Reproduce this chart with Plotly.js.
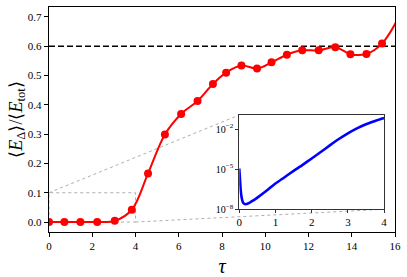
<!DOCTYPE html>
<html>
<head>
<meta charset="utf-8">
<script src="https://cdn.plot.ly/plotly-3.0.1.min.js"></script>
<style>html,body{margin:0;padding:0;background:#fff;}#chart{width:407px;height:277px;}</style>
</head>
<body>
<div id="chart"></div>
<script>
// Main series: energy ratio vs tau
const tau = [0, 0.71, 1.45, 2.23, 3.04, 3.83, 4.58, 5.36, 6.11, 6.87, 7.58, 8.19, 8.9, 9.62, 10.29, 11.0, 11.71, 12.47, 13.24, 13.94, 14.68, 15.4, 16.25];
const ratio = [0, 0, 0, 0, 0.004, 0.042, 0.166, 0.299, 0.369, 0.413, 0.471, 0.510, 0.534, 0.524, 0.545, 0.571, 0.586, 0.586, 0.597, 0.573, 0.574, 0.609, 0.71];
const threshold = 0.6;

// Inset series (log scale)
const tauInset = [0, 0.02, 0.04, 0.07, 0.1, 0.14, 0.18, 0.24, 0.3, 0.4, 0.5, 0.75, 1.0, 1.25, 1.5, 1.75, 2.0, 2.25, 2.5, 2.75, 3.0, 3.25, 3.5, 3.75, 4.0];
const ratioInset = [1.12e-5, 1.58e-6, 2.51e-7, 6.3e-8, 3.3e-8, 2.5e-8, 2.4e-8, 2.7e-8, 3.3e-8, 4.8e-8, 7.4e-8, 2.4e-7, 8.5e-7, 2.5e-6, 7.4e-6, 2.1e-5, 6.3e-5, 1.9e-4, 6.0e-4, 1.8e-3, 4.8e-3, 1.12e-2, 2.3e-2, 4.0e-2, 6.6e-2];
const insetTickVals = [1e-8, 1e-5, 1e-2];
const insetTickText = ['10<sup>−8</sup>', '10<sup>−5</sup>', '10<sup>−2</sup>'];

// Zoomed region shown in inset
const zoomX = [0, 4];
const zoomY = [0, 0.1];

const xRange = [0, 16];
const yRange = [-0.034, 0.734];
const insetDomX = [0.55, 0.9685];
const insetDomY = [0.101, 0.52];

const serif = '"Liberation Serif", "Times New Roman", serif';

// inset corners in main data coordinates
const cx0 = xRange[0] + insetDomX[0] * (xRange[1] - xRange[0]);
const cx1 = xRange[0] + insetDomX[1] * (xRange[1] - xRange[0]);
const cy0 = yRange[0] + insetDomY[0] * (yRange[1] - yRange[0]);
const cy1 = yRange[0] + insetDomY[1] * (yRange[1] - yRange[0]);

const grayDot = {color: '#999', width: 0.8, dash: 'dot'};

const data = [
  {x: tau, y: ratio, type: 'scatter', mode: 'lines+markers',
   line: {color: '#ff0000', width: 2, shape: 'spline', smoothing: 1},
   marker: {color: '#ff0000', size: 8}, xaxis: 'x', yaxis: 'y', cliponaxis: true},
  {x: tauInset, y: ratioInset, type: 'scatter', mode: 'lines',
   line: {color: '#0000ff', width: 2.6, shape: 'spline', smoothing: 0.6},
   xaxis: 'x2', yaxis: 'y2'}
];

const layout = {
  width: 407, height: 277,
  margin: {l: 49, r: 12, t: 7, b: 45},
  paper_bgcolor: '#fff', plot_bgcolor: '#fff',
  showlegend: false,
  font: {family: serif, color: '#000', size: 11},
  xaxis: {
    domain: [0, 1], range: xRange, dtick: 2, tick0: 0,
    showgrid: false, zeroline: false,
    showline: true, mirror: true, linecolor: '#000', linewidth: 1.2,
    ticks: 'outside', ticklen: 4, tickcolor: '#000',
    tickfont: {family: serif, size: 11, color: '#000'},
    title: {text: '<i>τ</i>', font: {family: serif, size: 20, color: '#000'}}
  },
  yaxis: {
    domain: [0, 1], range: yRange, dtick: 0.1, tick0: 0, tickformat: '.1f',
    showgrid: false, zeroline: false,
    showline: true, mirror: true, linecolor: '#000', linewidth: 1.2,
    ticks: 'outside', ticklen: 4, tickcolor: '#000',
    tickfont: {family: serif, size: 11, color: '#000'}
  },
  xaxis2: {
    domain: insetDomX, anchor: 'y2', range: [0, 4], dtick: 1, tick0: 0,
    showgrid: false, zeroline: false,
    showline: true, mirror: true, linecolor: '#333', linewidth: 1,
    ticks: 'outside', ticklen: 3, tickcolor: '#333',
    tickfont: {family: serif, size: 11, color: '#000'}
  },
  yaxis2: {
    domain: insetDomY, anchor: 'x2', type: 'log', range: [-8, -0.95],
    tickmode: 'array', tickvals: insetTickVals, ticktext: insetTickText,
    showgrid: false, zeroline: false,
    showline: true, mirror: true, linecolor: '#333', linewidth: 1,
    ticks: 'outside', ticklen: 3, tickcolor: '#333',
    tickfont: {family: serif, size: 10, color: '#000'}
  },
  annotations: [
    {text: '⟨<i>E</i><sub>Δ</sub>⟩/⟨<i>E</i><sub>tot</sub>⟩', xref: 'paper', yref: 'paper',
     x: -0.092, y: 0.5, xanchor: 'center', yanchor: 'middle', textangle: -90, showarrow: false,
     font: {family: serif, size: 18, color: '#000'}}
  ],
  shapes: [
    {type: 'line', xref: 'paper', yref: 'y', x0: 0, x1: 1, y0: threshold, y1: threshold,
     line: {color: '#000', width: 1.6, dash: '6px,3px'}, layer: 'below'},
    {type: 'rect', xref: 'x', yref: 'y', x0: zoomX[0], x1: zoomX[1], y0: zoomY[0], y1: zoomY[1],
     line: grayDot, layer: 'below'},
    {type: 'line', xref: 'x', yref: 'y', x0: zoomX[0], y0: zoomY[1], x1: cx0, y1: cy1,
     line: grayDot, layer: 'below'},
    {type: 'line', xref: 'x', yref: 'y', x0: zoomX[1], y0: zoomY[0], x1: cx1, y1: cy0,
     line: grayDot, layer: 'below'}
  ]
};

Plotly.newPlot('chart', data, layout, {displayModeBar: false, staticPlot: true});
</script>
</body>
</html>
